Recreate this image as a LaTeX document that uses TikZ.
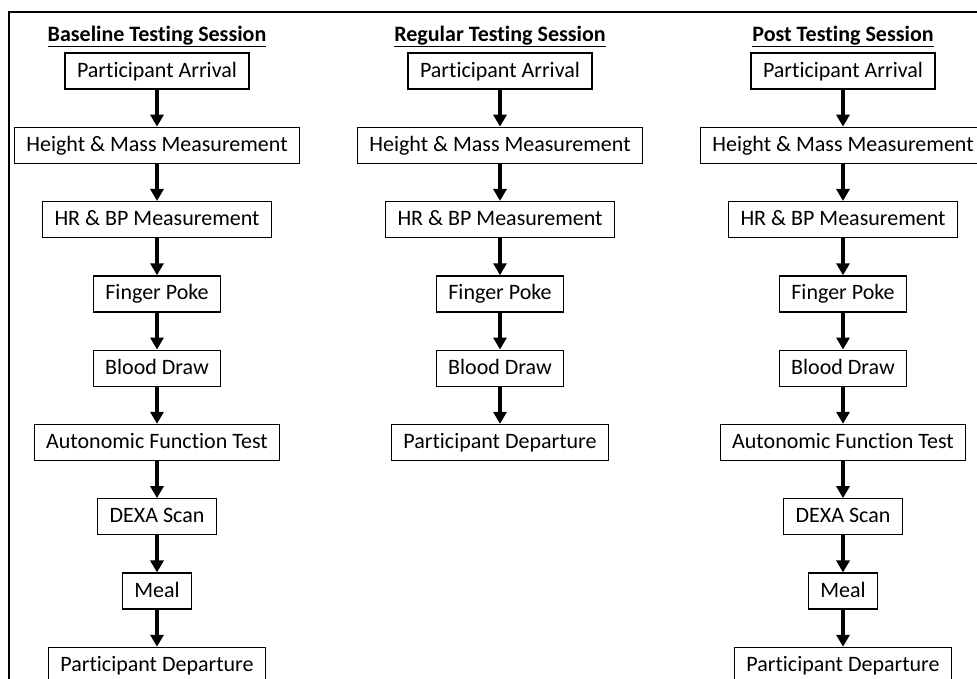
\documentclass[tikz,border=0pt]{standalone}
\usepackage{fontspec}
\setmainfont[Ligatures=NoCommon]{Carlito}
\usetikzlibrary{positioning,arrows.meta}

\tikzset{
  stepbox/.style={draw, line width=1.3pt, minimum height=36pt, inner xsep=12pt, inner ysep=0pt,
    text height=16pt, text depth=4pt, font=\fontsize{22}{26}\selectfont},
  heading/.style={anchor=base, font=\fontsize{22}{26}\selectfont\bfseries},
  flow/.style={-{Triangle[width=13pt,length=12pt]}, line width=3.2pt}
}

\begin{document}
\begin{tikzpicture}[x=1pt, y=-1pt, node distance=37pt]
  \useasboundingbox (0,0) rectangle (977,678);
  \draw[line width=2.2pt] (9,690) -- (9,12) -- (990,12);

  % baseline session
  \node[heading] (bhead) at (157,41) {\underline{Baseline Testing Session}};
  \node[stepbox] (b1) at (157,71) {Participant Arrival};
  \node[stepbox, below=of b1] (b2) {Height \& Mass Measurement};
  \node[stepbox, below=of b2] (b3) {HR \& BP Measurement};
  \node[stepbox, below=of b3] (b4) {Finger Poke};
  \node[stepbox, below=of b4] (b5) {Blood Draw};
  \node[stepbox, below=of b5] (b6) {Autonomic Function Test};
  \node[stepbox, below=of b6] (b7) {DEXA Scan};
  \node[stepbox, below=of b7] (b8) {Meal};
  \node[stepbox, below=of b8] (b9) {Participant Departure};

  % regular session
  \node[heading] (rhead) at (500,41) {\underline{Regular Testing Session}};
  \node[stepbox] (r1) at (500,71) {Participant Arrival};
  \node[stepbox, below=of r1] (r2) {Height \& Mass Measurement};
  \node[stepbox, below=of r2] (r3) {HR \& BP Measurement};
  \node[stepbox, below=of r3] (r4) {Finger Poke};
  \node[stepbox, below=of r4] (r5) {Blood Draw};
  \node[stepbox, below=of r5] (r6) {Participant Departure};

  % post session
  \node[heading] (phead) at (843,41) {\underline{Post Testing Session}};
  \node[stepbox] (p1) at (843,71) {Participant Arrival};
  \node[stepbox, below=of p1] (p2) {Height \& Mass Measurement};
  \node[stepbox, below=of p2] (p3) {HR \& BP Measurement};
  \node[stepbox, below=of p3] (p4) {Finger Poke};
  \node[stepbox, below=of p4] (p5) {Blood Draw};
  \node[stepbox, below=of p5] (p6) {Autonomic Function Test};
  \node[stepbox, below=of p6] (p7) {DEXA Scan};
  \node[stepbox, below=of p7] (p8) {Meal};
  \node[stepbox, below=of p8] (p9) {Participant Departure};

  \foreach \s/\n in {b/9, r/6, p/9} {
    \foreach \i [evaluate=\i as \j using int(\i+1)] in {1,...,8} {
      \ifnum\i<\n
        \draw[flow] (\s\i) -- (\s\j);
      \fi
    }
  }
\end{tikzpicture}
\end{document}
